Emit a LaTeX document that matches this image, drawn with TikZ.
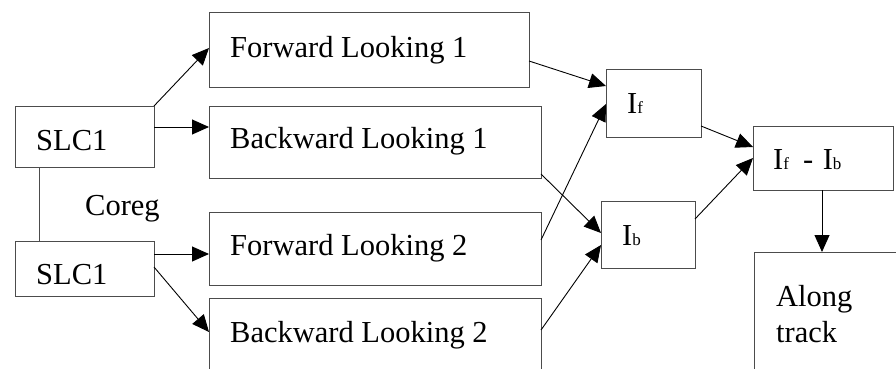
\documentclass[tikz,border=0pt]{standalone}
\usepackage{fontspec}
\setmainfont{Liberation Serif}
\usetikzlibrary{arrows.meta,calc}

\newcommand{\sm}[1]{{\fontsize{17}{19}\selectfont #1}}

\tikzset{
  box/.style={draw=black!70, line width=1pt, anchor=north west, outer sep=0pt,
              inner sep=0pt},
  lbl/.style={anchor=base west, inner sep=0pt, font=\fontsize{30.5}{35}\selectfont},
  conn/.style={draw=black, line width=0.9pt,
               -{Triangle[length=17pt,width=15pt]}},
  plain/.style={draw=black!70, line width=1pt}
}

\begin{document}
\begin{tikzpicture}[x=1pt,y=-1pt]
  \useasboundingbox (0,0) rectangle (896,369);
  \clip (0,0) rectangle (896,369);

  % boxes
  \node[box, minimum width=139pt, minimum height=61pt] (slca) at (15,106) {};
  \node[box, minimum width=139pt, minimum height=55pt] (slcb) at (15,241) {};
  \node[box, minimum width=320pt, minimum height=74pt] (fl1) at (209,13) {};
  \node[box, minimum width=332pt, minimum height=72pt] (bl1) at (209,106) {};
  \node[box, minimum width=332pt, minimum height=73pt] (fl2) at (209,212) {};
  \node[box, minimum width=332pt, minimum height=100pt] (bl2) at (209,298) {};
  \node[box, minimum width=95pt, minimum height=68pt] (if) at (606,69) {};
  \node[box, minimum width=94pt, minimum height=67pt] (ib) at (601,201) {};
  \node[box, minimum width=140pt, minimum height=64pt] (ifb) at (753,126) {};
  \node[box, minimum width=160pt, minimum height=150pt] (at) at (754,252) {};

  % texts
  \node[lbl] (t-slca) at (36,150) {SLC1};
  \node[lbl] (t-slcb) at (36,284) {SLC1};
  \node[lbl] (t-coreg) at (85,215) {Coreg};
  \node[lbl] (t-fl1) at (230,58) {Forward Looking 1};
  \node[lbl] (t-bl1) at (230,148) {Backward Looking 1};
  \node[lbl] (t-fl2) at (230,255) {Forward Looking 2};
  \node[lbl] (t-bl2) at (230,342) {Backward Looking 2};
  \node[lbl] (t-if) at (627,113) {I\sm{f}};
  \node[lbl] (t-ib) at (622,245) {I\sm{b}};
  \node[lbl] (t-ifb) at (773,169) {I\sm{f}\hspace{14pt}-\hspace{2pt} I\sm{b}};
  \node[lbl] (t-at1) at (776,306) {Along};
  \node[lbl] (t-at2) at (776,342) {track};

  % coregistration link
  \draw[plain] ($(slca.south west)+(24,0)$) -- ($(slcb.north west)+(24,0)$);

  % SLC to looking images
  \draw[conn] (slca.north east) -- ($(fl1.north west)+(0,35)$);
  \draw[conn] ($(slca.north east)+(0,21)$) -- ($(bl1.north west)+(0,21)$);
  \draw[conn] ($(slcb.north east)+(0,13)$) -- ($(fl2.north west)+(0,42)$);
  \draw[conn] ($(slcb.north east)+(0,26)$) -- ($(bl2.north west)+(0,34)$);

  % looking images to interferograms
  \draw[conn] ($(fl1.north east)+(0,48)$) -- ($(if.north west)+(0,17)$);
  \draw[conn] ($(fl2.north east)+(0,28)$) -- ($(if.north west)+(0,35)$);
  \draw[conn] ($(bl1.north east)+(0,68)$) -- ($(ib.north west)+(0,32)$);
  \draw[conn] ($(bl2.north east)+(0,32)$) -- ($(ib.north west)+(0,44)$);

  % difference
  \draw[conn] ($(if.north east)+(0,57)$) -- ($(ifb.north west)+(0,21)$);
  \draw[conn] ($(ib.north east)+(0,18)$) -- ($(ifb.north west)+(0,32)$);
  \draw[conn] ($(ifb.south west)+(69,0)$) -- ($(at.north west)+(68,0)$);
\end{tikzpicture}
\end{document}
